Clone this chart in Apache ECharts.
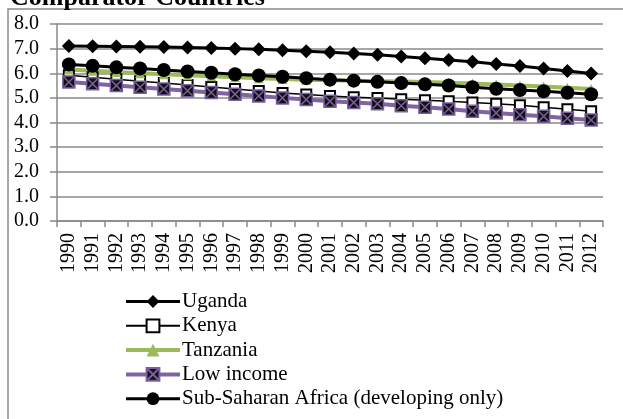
<!DOCTYPE html>
<html>
<head>
<meta charset="utf-8">
<script src="https://cdn.jsdelivr.net/npm/echarts@6/dist/echarts.min.js"></script>
<style>
html,body{margin:0;padding:0;background:#fff;}
#chart{width:623px;height:419px;}
</style>
</head>
<body>
<div id="chart"></div>
<script>
var years = ['1990','1991','1992','1993','1994','1995','1996','1997','1998','1999','2000','2001','2002','2003','2004','2005','2006','2007','2008','2009','2010','2011','2012'];
var uganda = [7.11,7.10,7.09,7.08,7.07,7.05,7.03,7.00,6.97,6.93,6.89,6.85,6.80,6.75,6.68,6.61,6.54,6.47,6.38,6.29,6.19,6.09,5.99];
var kenya = [5.92,5.84,5.76,5.68,5.60,5.52,5.44,5.36,5.28,5.20,5.14,5.08,5.03,4.99,4.94,4.90,4.86,4.81,4.76,4.70,4.62,4.54,4.46];
var tanzania = [6.15,6.10,6.05,6.00,5.96,5.92,5.88,5.84,5.80,5.77,5.74,5.72,5.70,5.68,5.66,5.64,5.61,5.58,5.54,5.50,5.46,5.41,5.36];
var lowIncome = [5.64,5.57,5.50,5.43,5.36,5.29,5.22,5.15,5.08,5.00,4.93,4.86,4.81,4.76,4.68,4.62,4.55,4.46,4.39,4.31,4.25,4.17,4.10];
var ssa = [6.36,6.30,6.24,6.19,6.13,6.07,6.02,5.96,5.91,5.86,5.80,5.74,5.70,5.65,5.60,5.55,5.50,5.43,5.37,5.32,5.27,5.21,5.15];
var seriesNames = ['Uganda','Kenya','Tanzania','Low income','Sub-Saharan Africa (developing only)'];
var titleText = 'Comparator Countries';

var FONT = '"Liberation Serif","Times New Roman",serif';
var GRID_GRAY = '#8a8a8a';
var chart = echarts.init(document.getElementById('chart'), null, {renderer:'canvas'});
var xSquare = 'path://M0,0 L10,0 L10,10 L0,10 Z M1,1 L9,9 M9,1 L1,9';

chart.setOption({
  animation: false,
  backgroundColor: '#fff',
  graphic: [
    {type:'rect', shape:{x:8, y:9, width:800, height:600}, style:{fill:'none', stroke:GRID_GRAY, lineWidth:1.5}, silent:true, z:-1},
    {type:'text', x:10, y:-2, style:{text:titleText, font:'bold 26px ' + FONT, fill:'#000', verticalAlign:'middle'}}
  ],
  grid: {left:57, right:20, top:24, height:197, containLabel:false},
  legend: {
    orient:'vertical', left:119, top:286, height:200, itemWidth:54, itemHeight:16, itemGap:3.3,
    textStyle:{fontFamily:FONT, fontSize:21, color:'#000', lineHeight:20, padding:[0,0,0,-3]},
    data: [
      {name:seriesNames[0], lineStyle:{width:3}},
      {name:seriesNames[1], lineStyle:{width:2}},
      {name:seriesNames[2], lineStyle:{width:4}},
      {name:seriesNames[3], lineStyle:{width:4}},
      {name:seriesNames[4], lineStyle:{width:3}}
    ]
  },
  xAxis: {
    type:'category', data:years, boundaryGap:true,
    axisLine:{show:true, lineStyle:{color:GRID_GRAY, width:1.5}},
    axisTick:{show:true, interval:0, length:6, lineStyle:{color:GRID_GRAY, width:1.5}},
    axisLabel:{interval:0, rotate:90, margin:12, fontFamily:FONT, fontSize:20, color:'#000'}
  },
  yAxis: {
    type:'value', min:0, max:8, interval:1,
    axisLine:{show:true, lineStyle:{color:GRID_GRAY, width:1.5}},
    axisTick:{show:true, length:7, lineStyle:{color:GRID_GRAY, width:1.5}},
    splitLine:{show:true, lineStyle:{color:GRID_GRAY, width:1.5}},
    axisLabel:{margin:18, fontFamily:FONT, fontSize:20, color:'#000', formatter:function(v){return v.toFixed(1);}}
  },
  series: [
    {name:seriesNames[0], type:'line', data:uganda, symbol:'diamond', symbolSize:14,
      lineStyle:{color:'#000', width:3}, itemStyle:{color:'#000'}},
    {name:seriesNames[1], type:'line', data:kenya, symbol:'rect', symbolSize:10,
      lineStyle:{color:'#000', width:1.5}, itemStyle:{color:'#fff', borderColor:'#000', borderWidth:2}},
    {name:seriesNames[2], type:'line', data:tanzania, symbol:'triangle', symbolSize:10,
      lineStyle:{color:'#9BBB59', width:4}, itemStyle:{color:'#9BBB59'}},
    {name:seriesNames[3], type:'line', data:lowIncome, symbol:xSquare, symbolSize:12,
      lineStyle:{color:'#8064A2', width:4}, itemStyle:{color:'#111', borderColor:'#7a5ea0', borderWidth:1.5}},
    {name:seriesNames[4], type:'line', data:ssa, symbol:'circle', symbolSize:14,
      lineStyle:{color:'#000', width:3}, itemStyle:{color:'#000'}}
  ]
});
</script>
</body>
</html>
